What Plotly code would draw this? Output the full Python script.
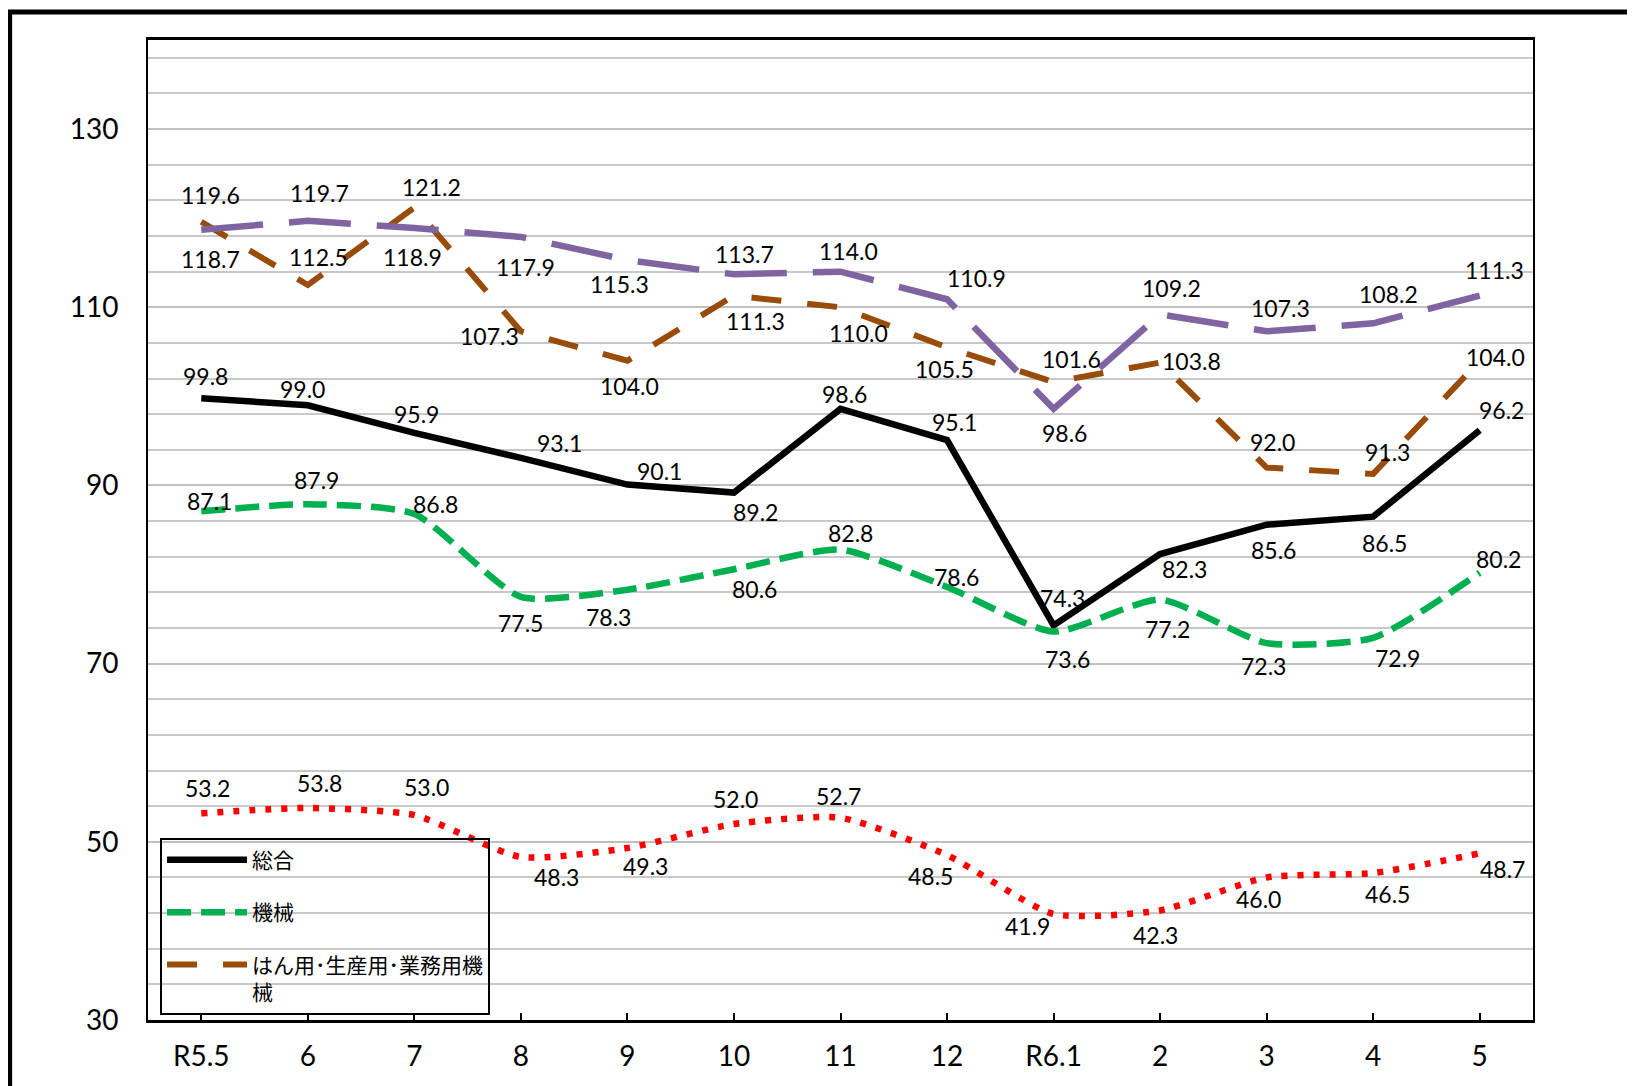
import plotly.graph_objects as go

# ---- data ----
categories = ["R5.5", "6", "7", "8", "9", "10", "11", "12", "R6.1", "2", "3", "4", "5"]
sogo = [99.8, 99.0, 95.9, 93.1, 90.1, 89.2, 98.6, 95.1, 74.3, 82.3, 85.6, 86.5, 96.2]
kikai = [87.1, 87.9, 86.8, 77.5, 78.3, 80.6, 82.8, 78.6, 73.6, 77.2, 72.3, 72.9, 80.2]
hanyo = [119.6, 112.5, 121.2, 107.3, 104.0, 111.3, 110.0, 105.5, 101.6, 103.8, 92.0, 91.3, 104.0]
series4 = [118.7, 119.7, 118.9, 117.9, 115.3, 113.7, 114.0, 110.9, 98.6, 109.2, 107.3, 108.2, 111.3]
series5 = [53.2, 53.8, 53.0, 48.3, 49.3, 52.0, 52.7, 48.5, 41.9, 42.3, 46.0, 46.5, 48.7]

names = ["総合", "機械", "はん用･生産用･業務用機<br>械"]

# ---- label offsets (dx, dy) in px, relative to each point ----
off_sogo = [(4, -21), (-5, -16), (2, -18), (37, -14), (31, -13), (21, 19), (4, -14),
            (7, -17), (9, -26), (23, 14), (7, 24), (11, 25), (21, -19)]
off_kikai = [(8, -10), (8, -23), (20, -10), (0, 25), (-18, 26), (20, 19), (10, -16),
             (9, -10), (13, 26), (7, 28), (-3, 22), (23, 19), (18, -13)]
off_hanyo = [(9, -26), (10, -27), (16, -20), (-30, 4), (2, 24), (21, 24), (17, 25),
             (-2, 21), (17, -22), (30, -1), (6, -25), (14, -21), (15, -4)]
off_s4 = [(9, 28), (11, -27), (-2, 28), (4, 29), (-8, 23), (10, -19), (8, -20),
          (28, -20), (10, 23), (11, -25), (13, -22), (15, -28), (14, -25)]
off_s5 = [(6, -24), (11, -24), (12, -27), (34, 19), (17, 17), (1, -24), (-2, -21),
          (-16, 20), (-25, 12), (-4, 24), (-8, 21), (14, 20), (22, 15)]

SC = 1.0427
FONT = "Lato, 'Noto Sans CJK JP', sans-serif"
xs = list(range(len(categories)))

fig = go.Figure()

fig.add_trace(go.Scatter(x=xs, y=sogo, mode="lines", name=names[0],
                         legendgroup="a",
                         line=dict(color="#000000", width=6.5)))
fig.add_trace(go.Scatter(x=xs, y=kikai, mode="lines", name=names[1],
                         legendgroup="b",
                         line=dict(color="#00B050", width=6.5, dash="24px,10px",
                                   shape="spline", smoothing=0.6)))
fig.add_trace(go.Scatter(x=xs, y=hanyo, mode="lines", name=names[2],
                         legendgroup="c",
                         line=dict(color="#994C0A", width=6, dash="30px,26px")))
fig.add_trace(go.Scatter(x=xs, y=series4, mode="lines", name=" ",
                         showlegend=False,
                         line=dict(color="#8064A2", width=6.5, dash="62px,26px")))
fig.add_trace(go.Scatter(x=xs, y=series5, mode="lines", name=" ",
                         showlegend=False,
                         line=dict(color="#FF0000", width=6.5, dash="6px,10px",
                                   shape="spline", smoothing=0.6)))

annotations = []
for vals, offs in [(sogo, off_sogo), (kikai, off_kikai), (hanyo, off_hanyo),
                   (series4, off_s4), (series5, off_s5)]:
    for i, v, (dx, dy) in zip(xs, vals, offs):
        annotations.append(dict(x=i, y=v, xref="x", yref="y", text=f"{v:.1f}",
                                showarrow=False, xshift=dx * SC, yshift=-dy * SC,
                                font=dict(family=FONT, size=23, color="#000000")))

fig.update_layout(
    width=1627, height=1078,
    margin=dict(l=140, r=102, t=32, b=66),
    paper_bgcolor="white", plot_bgcolor="white",
    font=dict(family=FONT, color="#000000"),
    annotations=annotations,
    showlegend=True,
    legend=dict(x=0.0087, y=0.186, xanchor="left", yanchor="top",
                bgcolor="rgba(0,0,0,0)", bordercolor="#000000", borderwidth=2,
                font=dict(family=FONT, size=21, color="#000000"),
                tracegroupgap=22, valign="top", itemwidth=80),
    shapes=[dict(type="rect", xref="paper", yref="paper",
                 x0=-0.0999, x1=1.0697, y0=-0.09, y1=1.0286,
                 line=dict(color="#000000", width=5), layer="above")],
)

fig.update_xaxes(range=[-0.5, 12.5], tickmode="array", tickvals=xs, ticktext=categories,
                 showline=True, linecolor="#000000", linewidth=2.5, mirror=True,
                 ticks="inside", ticklen=7, tickcolor="#000000", tickwidth=1.5,
                 showgrid=False, zeroline=False, tickfont=dict(family=FONT, size=28),
                 ticklabelstandoff=10)
fig.update_yaxes(range=[30, 140], tick0=30, dtick=20,
                 showline=True, linecolor="#000000", linewidth=2, mirror=True,
                 ticks="", showgrid=True, gridcolor="#BFBFBF", gridwidth=2,
                 minor=dict(tick0=30, dtick=4, showgrid=True, gridcolor="#C8C8C8", gridwidth=2),
                 zeroline=False, tickfont=dict(family=FONT, size=28),
                 ticklabelstandoff=22)

fig.write_html("out.html")
